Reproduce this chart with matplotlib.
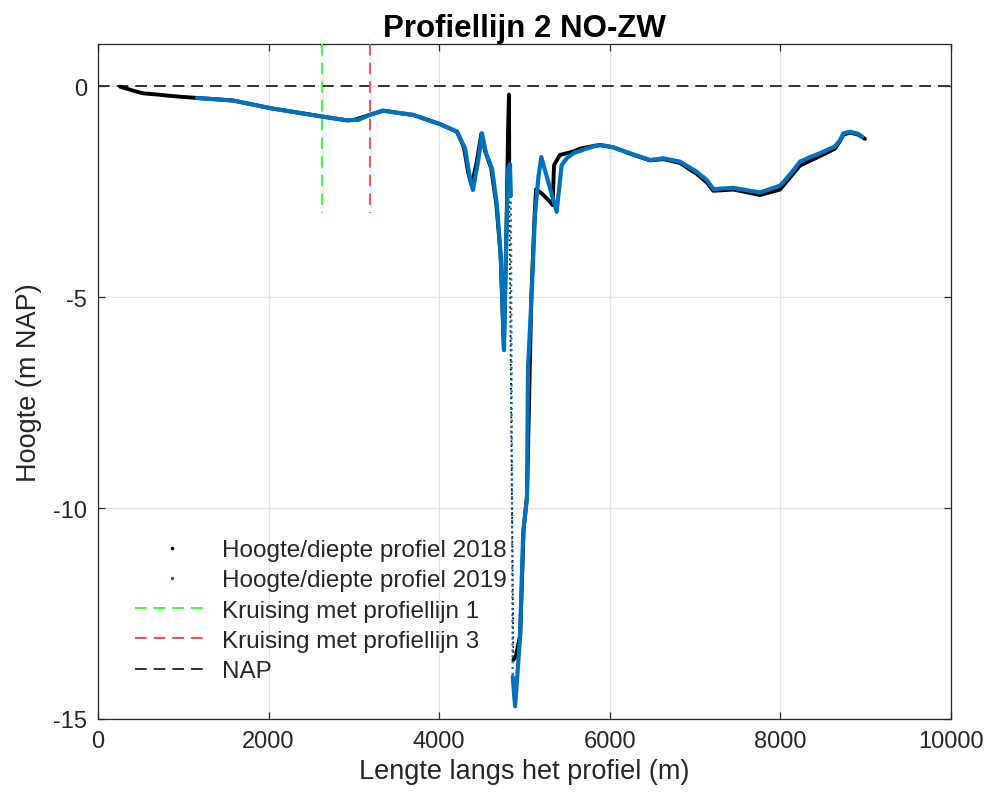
import numpy as np
import matplotlib
matplotlib.use("Agg")
import matplotlib.pyplot as plt
from matplotlib.lines import Line2D

# -------------------------
# Data
# -------------------------

x_2018 = [258, 400, 528, 700, 900, 1160, 1583, 2016, 2626, 2919, 3000, 3189,
          3341, 3540, 3693, 4009, 4209, 4290, 4340, 4380, 4440, 4495, 4540,
          4610, 4670, 4720, 4758, 4790, 4808, 4818, 4822, 4845, 4870, 4900,
          4950, 4990, 5030, 5080, 5120, 5135, 5200, 5299, 5330, 5346, 5416,
          5573, 5651, 5885, 6041, 6237, 6471, 6627, 6823, 7019, 7136, 7214,
          7448, 7761, 7995, 8120, 8230, 8464, 8640, 8700, 8738, 8816, 8913,
          8992]
y_2018 = [-0.01, -0.10, -0.17, -0.20, -0.24, -0.28, -0.34, -0.52, -0.72, -0.81,
          -0.80, -0.68, -0.58, -0.64, -0.68, -0.90, -1.08, -1.45, -2.05, -2.35,
          -1.80, -1.12, -1.55, -1.95, -2.80, -4.0, -6.2, -3.3, -1.0, -0.2,
          -2.5, -8.0, -13.6, -13.5, -13.0, -10.5, -9.7, -5.0, -3.0, -2.45,
          -2.54, -2.74, -2.82, -1.87, -1.63, -1.55, -1.48, -1.39, -1.45, -1.60,
          -1.76, -1.73, -1.82, -2.08, -2.28, -2.48, -2.45, -2.58, -2.45, -2.15,
          -1.88, -1.66, -1.48, -1.30, -1.15, -1.10, -1.15, -1.25]

x_2019 = [1160, 1583, 2016, 2626, 2919, 3050, 3189, 3341, 3540, 3693, 4009, 4209,
          4302, 4361, 4396, 4455, 4502, 4549, 4619, 4677, 4721, 4760, 4791,
          4810, 4830, 4840, 4862, 4890, 4947, 4985, 5029, 5041, 5084, 5123,
          5162, 5197, 5377, 5436, 5500, 5573, 5700, 5807, 5885, 6041, 6237,
          6471, 6627, 6823, 7019, 7136, 7214, 7448, 7761, 7995, 8060, 8150,
          8230, 8350, 8464, 8640, 8700, 8738, 8816, 8913, 8960]
y_2019 = [-0.28, -0.34, -0.52, -0.72, -0.81, -0.80, -0.68, -0.58, -0.64, -0.68,
          -0.90, -1.08, -1.47, -2.18, -2.46, -1.79, -1.12, -1.59, -1.95, -2.82,
          -4.0, -6.26, -3.2, -1.95, -1.85, -2.6, -14.0, -14.7, -13.1, -10.56,
          -9.78, -6.69, -4.95, -3.05, -2.18, -1.68, -2.98, -1.87, -1.70, -1.59,
          -1.50, -1.43, -1.40, -1.45, -1.59, -1.75, -1.71, -1.79, -2.03, -2.22,
          -2.44, -2.41, -2.52, -2.36, -2.22, -2.00, -1.79, -1.68, -1.59, -1.43,
          -1.28, -1.12, -1.08, -1.13, -1.20]

cross_1 = 2626
cross_3 = 3189
cross_top = 1
cross_bottom = -3

labels = ["Hoogte/diepte profiel 2018", "Hoogte/diepte profiel 2019",
          "Kruising met profiellijn 1", "Kruising met profiellijn 3", "NAP"]

# -------------------------
# Style
# -------------------------

plt.rcParams['font.family'] = ['Liberation Sans', 'DejaVu Sans']
plt.rcParams['axes.unicode_minus'] = False

blue = '#0072BD'
axis_col = '#262626'
dash = (6, 3.6)

fig = plt.figure(figsize=(9.91, 8.03), dpi=100)
ax = fig.add_axes([0.0989, 0.1034, 0.8607, 0.8406])

# -------------------------
# Plot
# -------------------------

ax.plot([0, 10000], [0, 0], color='#333333', lw=1.4, dashes=dash, zorder=2)

ax.plot([cross_1, cross_1], [cross_top, cross_bottom], color='#33ff33',
        lw=1.4, dashes=dash, zorder=3)
ax.plot([cross_3, cross_3], [cross_top, cross_bottom], color='#ff4d4d',
        lw=1.4, dashes=dash, zorder=3)

# 2018 profile (steep part drawn thin)
i_a = x_2018.index(4822)
i_b = x_2018.index(4870)
ax.plot(x_2018[:i_a + 1], y_2018[:i_a + 1], color='black', lw=2.8,
        solid_capstyle='round', solid_joinstyle='round', zorder=4)
ax.plot(x_2018[i_a:i_b + 1], y_2018[i_a:i_b + 1], color='black', lw=1.3,
        ls=':', zorder=4)
ax.plot(x_2018[i_b:], y_2018[i_b:], color='black', lw=2.8,
        solid_capstyle='round', solid_joinstyle='round', zorder=4)

# 2019 profile
j_a = x_2019.index(4840)
j_b = x_2019.index(4862)
ax.plot(x_2019[:j_a + 1], y_2019[:j_a + 1], color=blue, lw=3.0,
        solid_capstyle='round', solid_joinstyle='round', zorder=5)
ax.plot(x_2019[j_a:j_b + 1], y_2019[j_a:j_b + 1], color=blue, lw=1.6,
        ls=':', zorder=5)
ax.plot(x_2019[j_b:], y_2019[j_b:], color=blue, lw=3.0,
        solid_capstyle='round', solid_joinstyle='round', zorder=5)

# -------------------------
# Axes
# -------------------------

ax.set_xlim(0, 10000)
ax.set_ylim(-15, 1)
ax.set_xticks(np.arange(0, 10001, 2000))
ax.set_yticks([-15, -10, -5, 0])

ax.grid(True, color='#e3e3e3', lw=0.9)
ax.set_axisbelow(True)

for s in ax.spines.values():
    s.set_color(axis_col)
    s.set_linewidth(0.9)

ax.tick_params(direction='in', length=5, width=0.9, colors=axis_col,
               labelsize=17, top=True, right=True, pad=8)

ax.set_title("Profiellijn 2 NO-ZW", fontsize=22.5, fontweight='bold',
             color='black', pad=6)
ax.set_xlabel("Lengte langs het profiel (m)", fontsize=19.5, color=axis_col)
ax.set_ylabel("Hoogte (m NAP)", fontsize=19.5, color=axis_col, labelpad=8)

handles = [
    Line2D([], [], color='black', marker='.', ls='none', markersize=3),
    Line2D([], [], color=blue, marker='.', ls='none', markersize=3),
    Line2D([], [], color='#33ff33', lw=1.4, dashes=dash),
    Line2D([], [], color='#ff4d4d', lw=1.4, dashes=dash),
    Line2D([], [], color='#333333', lw=1.4, dashes=dash),
]
leg = ax.legend(handles, labels, loc='lower left', bbox_to_anchor=(0.018, 0.022),
                frameon=False, fontsize=17.5, handlelength=3.0,
                labelspacing=0.34, handletextpad=0.55)
for t in leg.get_texts():
    t.set_color(axis_col)

fig.savefig("out.png", dpi=100)
